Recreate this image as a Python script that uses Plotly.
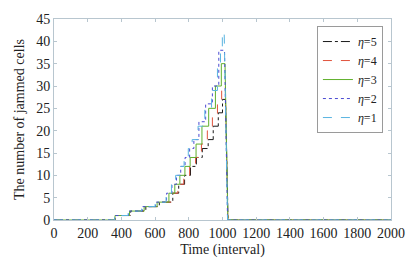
import plotly.graph_objects as go

# step change times and levels for each eta (value holds until next time)
t_eta5 = [0, 365, 455, 545, 625, 705, 740, 775, 810, 845, 880, 915, 945, 975, 1000]
v_eta5 = [0, 1, 2, 3, 4, 6, 8, 10, 12, 14, 16, 18, 21, 24, 27]
end_eta5 = [1018, 1033]

t_eta4 = [0, 365, 450, 540, 620, 700, 735, 770, 805, 840, 875, 910, 940, 970, 995]
v_eta4 = [0, 1, 2, 3, 4, 6, 8, 10, 12, 14, 17, 20, 23, 27, 30]
end_eta4 = [1017, 1032]

t_eta3 = [0, 362, 448, 535, 612, 682, 717, 747, 777, 808, 843, 878, 918, 958, 993]
v_eta3 = [0, 1, 2, 3, 4, 6, 8, 10, 12, 14, 17, 21, 25, 30, 35]
end_eta3 = [1015, 1032]

t_eta2 = [0, 360, 442, 525, 603, 668, 700, 727, 752, 778, 805, 830, 860, 900, 940, 978]
v_eta2 = [0, 1, 2, 3, 4, 6, 8, 10, 12, 14, 16, 18, 22, 26, 30, 38]
end_eta2 = [1012, 1030]

t_eta1 = [0, 360, 440, 520, 600, 665, 697, 722, 747, 772, 797, 820, 855, 895, 935, 970, 988]
v_eta1 = [0, 1, 2, 3, 4, 6, 8, 10, 12, 14, 16, 18, 21, 25, 29, 34, 38]
peak_eta1 = 42
end_eta1 = [1010, 1030]

t_max = 2000
x_ticks = list(range(0, 2001, 200))
y_ticks = list(range(0, 46, 5))

series = [
    ("5", t_eta5, v_eta5, None, end_eta5, "#1a1a1a", "dashdot"),
    ("4", t_eta4, v_eta4, None, end_eta4, "#e0533c", "dash"),
    ("3", t_eta3, v_eta3, None, end_eta3, "#5fb02c", "solid"),
    ("2", t_eta2, v_eta2, None, end_eta2, "#4b4bd2", "dot"),
    ("1", t_eta1, v_eta1, peak_eta1, end_eta1, "#5ab4e0", "dash"),
]


def build_path(ts, vs, peak, end):
    xs, ys = [ts[0]], [vs[0]]
    for i in range(1, len(ts)):
        xs += [ts[i], ts[i]]
        ys += [vs[i - 1], vs[i]]
    top = vs[-1]
    if peak is not None:
        mid = (ts[-1] + end[0]) / 2
        xs += [mid, mid]
        ys += [top, peak]
        top = peak
    xs += [end[0], end[1], t_max]
    ys += [top, 0, 0]
    return xs, ys


fig = go.Figure()
for name, ts, vs, peak, end, color, dash in series:
    xs, ys = build_path(ts, vs, peak, end)
    fig.add_trace(go.Scatter(
        x=xs, y=ys, mode="lines",
        name="<i>η</i>=" + name,
        line=dict(color=color, width=1, dash=dash),
    ))

axis_color = "#b8c6cf"
fam = "Liberation Serif"

fig.update_layout(
    width=417, height=267,
    margin=dict(l=54, r=25, t=12, b=44),
    paper_bgcolor="white", plot_bgcolor="white",
    font=dict(family=fam, size=14, color="#222"),
    showlegend=True,
    legend=dict(
        x=0.976, y=0.965, xanchor="right", yanchor="top",
        bgcolor="white", bordercolor="#9a9a9a", borderwidth=1,
        font=dict(family=fam, size=12, color="#222"),
        itemwidth=30, tracegroupgap=0,
    ),
)
fig.update_xaxes(
    range=[0, 2000], tickvals=x_ticks, ticktext=[str(v) for v in x_ticks],
    showgrid=False, zeroline=False,
    showline=True, mirror="ticks", linecolor=axis_color, linewidth=1,
    ticks="inside", ticklen=3, tickcolor=axis_color,
    tickfont=dict(family=fam, size=14, color="#222"),
    title=dict(text="Time (interval)", standoff=4,
               font=dict(family=fam, size=14, color="#222")),
)
fig.update_yaxes(
    range=[0, 45], tickvals=y_ticks, ticktext=[str(v) for v in y_ticks],
    showgrid=False, zeroline=False,
    showline=True, mirror="ticks", linecolor=axis_color, linewidth=1,
    ticks="inside", ticklen=3, tickcolor=axis_color,
    tickfont=dict(family=fam, size=14, color="#222"),
    title=dict(text="The number of jammed cells", standoff=8,
               font=dict(family=fam, size=14, color="#222")),
)

fig.write_html("out.html")
